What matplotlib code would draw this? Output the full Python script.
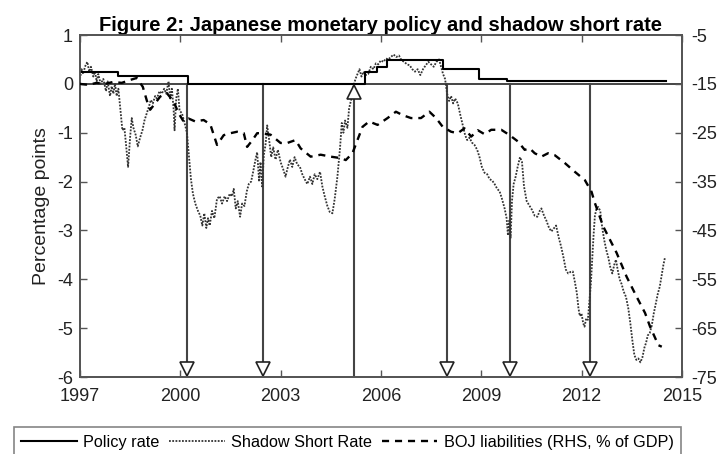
import matplotlib
matplotlib.use("Agg")
import matplotlib.pyplot as plt
from matplotlib.lines import Line2D

plt.rcParams['font.family'] = ['Liberation Sans', 'DejaVu Sans']
plt.rcParams['axes.unicode_minus'] = False

# Policy rate (steps), left axis, percentage points
policy_dates = [1997.00, 1998.13, 2000.22, 2005.53, 2005.87, 2006.17, 2007.85, 2008.93, 2009.78, 2014.53]
policy_rate = [0.25, 0.16, 0.00, 0.25, 0.35, 0.49, 0.30, 0.10, 0.06, 0.06]

# Shadow short rate, left axis
ssr_dates = [
    1997.00, 1997.05, 1997.10, 1997.15, 1997.22, 1997.28, 1997.33, 1997.40, 1997.45, 1997.50,
    1997.55, 1997.62, 1997.70, 1997.78, 1997.83, 1997.90, 1997.95, 1998.00, 1998.05, 1998.10,
    1998.15, 1998.22, 1998.27, 1998.33, 1998.38, 1998.44, 1998.50, 1998.55, 1998.60, 1998.67,
    1998.73, 1998.80, 1998.87, 1998.93, 1999.00, 1999.07, 1999.12, 1999.18, 1999.25, 1999.30,
    1999.38, 1999.45, 1999.52, 1999.58, 1999.65, 1999.70, 1999.75, 1999.80, 1999.83, 1999.88,
    1999.93, 1999.98, 2000.05, 2000.13, 2000.20, 2000.25, 2000.32, 2000.38, 2000.45, 2000.53,
    2000.60, 2000.66, 2000.72, 2000.78, 2000.83, 2000.88, 2000.95, 2001.02, 2001.10, 2001.18,
    2001.25, 2001.33, 2001.40, 2001.48, 2001.55, 2001.60, 2001.66, 2001.72, 2001.79, 2001.85,
    2001.92, 2001.99, 2002.05, 2002.12, 2002.18, 2002.25, 2002.30, 2002.36, 2002.40, 2002.45,
    2002.50, 2002.55, 2002.60, 2002.65, 2002.72, 2002.78, 2002.85, 2002.92, 2003.00, 2003.08,
    2003.15, 2003.20, 2003.28, 2003.35, 2003.42, 2003.50, 2003.58, 2003.65, 2003.72, 2003.80,
    2003.88, 2003.95, 2004.02, 2004.10, 2004.18, 2004.25, 2004.32, 2004.40, 2004.47, 2004.55,
    2004.62, 2004.70, 2004.78, 2004.83, 2004.88, 2004.93, 2005.00, 2005.05, 2005.12, 2005.18,
    2005.24, 2005.30, 2005.36, 2005.42, 2005.48, 2005.55, 2005.62, 2005.70, 2005.78, 2005.85,
    2005.92, 2006.00, 2006.08, 2006.15, 2006.22, 2006.30, 2006.38, 2006.46, 2006.54, 2006.62,
    2006.70, 2006.78, 2006.86, 2006.94, 2007.02, 2007.10, 2007.18, 2007.26, 2007.34, 2007.42,
    2007.50, 2007.58, 2007.66, 2007.74, 2007.80, 2007.86, 2007.92, 2007.98, 2008.04, 2008.10,
    2008.16, 2008.22, 2008.30, 2008.38, 2008.45, 2008.52, 2008.58, 2008.65, 2008.72, 2008.80,
    2008.88, 2008.95, 2009.02, 2009.10, 2009.18, 2009.25, 2009.33, 2009.40, 2009.48, 2009.55,
    2009.62, 2009.70, 2009.76, 2009.80, 2009.84, 2009.88, 2009.92, 2009.97, 2010.03, 2010.09,
    2010.16, 2010.22, 2010.28, 2010.36, 2010.45, 2010.52, 2010.60, 2010.68, 2010.75, 2010.80,
    2010.88, 2010.95, 2011.03, 2011.10, 2011.18, 2011.24, 2011.32, 2011.39, 2011.46, 2011.53,
    2011.60, 2011.67, 2011.74, 2011.80, 2011.86, 2011.91, 2011.95, 2012.00, 2012.05, 2012.09,
    2012.14, 2012.19, 2012.24, 2012.28, 2012.32, 2012.36, 2012.40, 2012.45, 2012.50, 2012.56,
    2012.62, 2012.68, 2012.74, 2012.80, 2012.86, 2012.92, 2012.98, 2013.03, 2013.08, 2013.14,
    2013.20, 2013.26, 2013.33, 2013.40, 2013.46, 2013.52, 2013.58, 2013.64, 2013.70, 2013.76,
    2013.82, 2013.88, 2013.93, 2013.98, 2014.04, 2014.10, 2014.16, 2014.22, 2014.28, 2014.34,
    2014.40, 2014.45, 2014.50,
]
ssr_values = [
    0.10, 0.30, 0.20, 0.35, 0.45, 0.25, 0.35, 0.15, 0.25, 0.05,
    0.20, 0.00, 0.10, -0.15, 0.05, -0.25, -0.05, -0.20, 0.00, -0.25,
    -0.10, -0.60, -0.95, -0.90, -1.25, -1.70, -1.10, -0.70, -0.90, -1.05,
    -1.28, -1.10, -0.95, -0.75, -0.60, -0.45, -0.33, -0.40, -0.25, -0.30,
    -0.15, -0.20, -0.10, -0.20, 0.05, -0.30, -0.10, -0.50, -0.95, -0.30,
    -0.10, -0.55, -0.60, -0.80, -1.00, -1.40, -1.95, -2.25, -2.45, -2.60,
    -2.70, -2.90, -2.65, -2.95, -2.75, -2.90, -2.60, -2.75, -2.35, -2.30,
    -2.45, -2.30, -2.40, -2.25, -2.30, -2.15, -2.55, -2.40, -2.72, -2.45,
    -2.50, -2.20, -2.05, -2.00, -1.80, -1.55, -1.40, -2.00, -1.60, -2.10,
    -1.45, -1.25, -0.85, -1.10, -1.50, -1.30, -1.55, -1.35, -1.60, -1.75,
    -1.90, -1.75, -1.55, -1.70, -1.50, -1.65, -1.70, -1.85, -1.95, -2.05,
    -1.90, -2.05, -1.85, -1.95, -1.80, -2.10, -2.30, -2.50, -2.62, -2.65,
    -2.35, -1.90, -1.30, -0.80, -1.00, -0.75, -0.90, -0.50, -0.30, -0.05,
    0.10, 0.20, 0.30, 0.15, 0.25, 0.18, 0.20, 0.35, 0.30, 0.42,
    0.40, 0.48, 0.45, 0.52, 0.50, 0.55, 0.60, 0.55, 0.58, 0.48,
    0.45, 0.40, 0.38, 0.30, 0.25, 0.30, 0.18, 0.30, 0.38, 0.45,
    0.40, 0.35, 0.45, 0.50, 0.35, 0.20, 0.10, -0.20, -0.35, -0.25,
    -0.40, -0.30, -0.40, -0.65, -0.85, -1.05, -1.15, -1.10, -1.20, -1.25,
    -1.35, -1.50, -1.70, -1.82, -1.85, -1.95, -1.98, -2.05, -2.15, -2.20,
    -2.35, -2.55, -2.75, -3.10, -2.80, -3.15, -2.40, -2.05, -1.90, -1.70,
    -1.50, -1.60, -2.10, -2.40, -2.50, -2.58, -2.70, -2.72, -2.60, -2.55,
    -2.70, -2.80, -2.95, -3.02, -2.95, -2.90, -3.15, -3.33, -3.55, -3.80,
    -3.88, -3.85, -3.84, -4.05, -4.28, -4.60, -4.75, -4.70, -4.90, -4.97,
    -4.80, -4.83, -4.40, -4.08, -3.60, -3.10, -2.70, -2.55, -2.52, -2.60,
    -2.95, -3.20, -3.40, -3.55, -3.75, -3.88, -3.70, -3.60, -3.80, -4.00,
    -4.10, -4.25, -4.36, -4.60, -4.90, -5.25, -5.55, -5.65, -5.62, -5.70,
    -5.60, -5.40, -5.30, -5.15, -5.10, -4.95, -4.70, -4.50, -4.30, -4.15,
    -3.90, -3.70, -3.54,
]

# BOJ liabilities, % of GDP (plotted as negative on the right axis)
boj_dates = [
    1997.00, 1997.25, 1997.50, 1997.75, 1998.00, 1998.25, 1998.50, 1998.70, 1998.88, 1999.00,
    1999.10, 1999.25, 1999.40, 1999.60, 1999.80, 1999.95, 2000.10, 2000.25, 2000.45, 2000.70,
    2000.90, 2001.10, 2001.30, 2001.50, 2001.70, 2001.90, 2002.00, 2002.15, 2002.30, 2002.45,
    2002.70, 2003.00, 2003.20, 2003.45, 2003.60, 2003.90, 2004.20, 2004.50, 2004.80, 2004.95,
    2005.15, 2005.30, 2005.45, 2005.65, 2005.90, 2006.20, 2006.45, 2006.65, 2006.90, 2007.20,
    2007.45, 2007.65, 2007.85, 2008.10, 2008.30, 2008.50, 2008.70, 2008.90, 2009.10, 2009.30,
    2009.60, 2009.85, 2010.10, 2010.30, 2010.45, 2010.60, 2010.80, 2011.00, 2011.20, 2011.50,
    2011.80, 2012.10, 2012.30, 2012.40, 2012.65, 2013.05, 2013.35, 2013.65, 2013.90, 2014.05,
    2014.30, 2014.40,
]
boj_liab = [
    15.0, 15.2, 14.8, 15.0, 14.6, 14.8, 14.2, 13.8, 15.6, 18.4,
    20.3, 19.0, 17.6, 16.9, 18.6, 21.0, 22.7, 22.1, 22.7, 22.4,
    23.3, 27.5, 25.5, 25.1, 24.8, 25.1, 27.9, 26.6, 25.1, 25.1,
    25.4, 27.1, 27.1, 26.5, 28.2, 29.9, 29.5, 29.9, 30.2, 30.6,
    29.2, 26.5, 23.8, 22.7, 23.4, 22.0, 20.7, 21.4, 22.0, 22.0,
    20.7, 22.0, 23.8, 24.8, 25.1, 24.1, 25.8, 24.5, 25.3, 24.4,
    24.4, 25.5, 26.8, 28.5, 28.2, 29.2, 29.9, 29.2, 29.6, 31.2,
    33.0, 34.7, 37.1, 39.4, 44.2, 49.6, 54.5, 58.6, 61.9, 64.7,
    68.5, 68.8,
]

# policy announcements marked with arrows
down_dates = [2000.21, 2002.48, 2007.97, 2009.85, 2012.26]
up_dates = [2005.19]

x_ticks = [1997, 2000, 2003, 2006, 2009, 2012, 2015]
left_ticks = [-6, -5, -4, -3, -2, -1, 0, 1]
right_ticks = [-75, -65, -55, -45, -35, -25, -15, -5]

spine_col = '#555555'
arrow_col = '#444444'

fig = plt.figure(figsize=(7.2, 4.54), dpi=100, facecolor='white')
ax = fig.add_axes([0.111, 0.1696, 0.836, 0.7533])
ax2 = ax.twinx()

ax.axhline(0, color=arrow_col, lw=1.4, zorder=2)

for d in down_dates:
    ax.plot([d, d], [0, -5.7], color=arrow_col, lw=1.5, zorder=2)
    ax.plot(d, -5.83, marker='v', ms=9.5, mfc='white', mec='#222222', mew=1.2, zorder=5, clip_on=False)
for d in up_dates:
    ax.plot([d, d], [-6, -0.3], color=arrow_col, lw=1.5, zorder=2)
    ax.plot(d, -0.17, marker='^', ms=9.5, mfc='white', mec='#222222', mew=1.2, zorder=5)

ax.plot(policy_dates, policy_rate, drawstyle='steps-post', color='black', lw=1.5, zorder=4)
ax.plot(ssr_dates, ssr_values, color='#333333', lw=1.3, linestyle=(0, (1, 0.8)), zorder=3)
ax2.plot(boj_dates, [-v for v in boj_liab], color='black', lw=1.7, linestyle=(0, (3, 2.5)), zorder=3)

ax.set_xlim(1997, 2015)
ax.set_ylim(-6, 1)
ax2.set_ylim(-75, -5)
ax.set_xticks(x_ticks)
ax.set_yticks(left_ticks)
ax2.set_yticks(right_ticks)

ax.tick_params(axis='x', direction='in', top=True, length=5, width=1, color=spine_col,
               labelsize=13, pad=8, labelcolor='#222222')
ax.tick_params(axis='y', direction='in', length=5, width=1, color=spine_col,
               labelsize=13, pad=5, labelcolor='#222222')
ax2.tick_params(axis='y', direction='in', length=5, width=1, color=spine_col,
                labelsize=13, pad=7, labelcolor='#222222')

for a in (ax, ax2):
    for s in a.spines.values():
        s.set_color(spine_col)
        s.set_linewidth(1.3)

ax.set_ylabel("Percentage points", fontsize=14, color='#222222')
ax.yaxis.set_label_coords(-0.05, 0.5)
ax.set_title("Figure 2: Japanese monetary policy and shadow short rate",
             fontsize=14.5, fontweight='bold', pad=3)

handles = [
    Line2D([], [], color='black', lw=1.5),
    Line2D([], [], color='#333333', lw=1.3, linestyle=(0, (1, 0.8))),
    Line2D([], [], color='black', lw=1.7, linestyle=(0, (3, 2.5))),
]
labels = ["Policy rate", "Shadow Short Rate", "BOJ liabilities (RHS, % of GDP)"]
leg = fig.legend(handles, labels, loc='center', bbox_to_anchor=(0.4826, 0.0264), ncol=3,
                 fontsize=11.7, handlelength=3.4, handletextpad=0.4, columnspacing=0.6,
                 borderpad=0.45, fancybox=False, frameon=True)
leg.get_frame().set_edgecolor('#666666')
leg.get_frame().set_linewidth(1.2)

fig.savefig("out.png", dpi=100, facecolor='white')
